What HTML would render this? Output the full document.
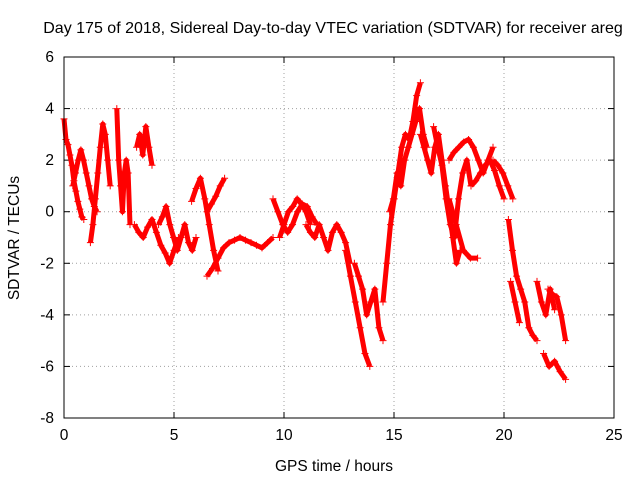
<!DOCTYPE html>
<html><head><meta charset="utf-8"><style>
body{margin:0;background:#fff}
svg text{font-family:"Liberation Sans",sans-serif;font-size:15.5px;fill:#000}
</style></head><body>
<svg id="c" width="640" height="480">
<text x="333" y="33" text-anchor="middle" style="font-size:16px">Day 175 of 2018, Sidereal Day-to-day VTEC variation (SDTVAR) for receiver areg</text>
<text x="334" y="471" text-anchor="middle">GPS time / hours</text>
<text transform="translate(19,238) rotate(-90)" text-anchor="middle">SDTVAR / TECUs</text>
<g id="grid"></g><g id="marks"></g>
<rect x="64" y="57" width="550" height="361" fill="none" stroke="#000"/>
</svg>
<script>
const xTicks=[0,5,10,15,20,25];
const yTicks=[-8,-6,-4,-2,0,2,4,6];
const trackStart=[0,0.4,1.2,2.4,3.3,3.2,4.3,5.8,6.5,6.5,9.5,9.8,11.0,12.8,13.2,14.5,14.8,16.2,16.8,17.5,17.5,18.5,19.5,20.2,20.3,21.5,21.8,22.0];
const trackEnd=[0.9,1.5,2.1,3.0,4.0,5.2,6.0,7.0,7.3,9.5,11.5,11.2,13.0,13.9,14.5,16.2,16.5,18.0,18.5,19.5,18.8,20.0,20.4,21.5,20.7,22.3,22.8,22.8];
const trackValues=[
[3.6,2.8,2.6,2.2,1.8,1.2,0.8,0.4,0.1,-0.2,-0.3],
[1.0,1.5,2.0,2.4,2.0,1.5,1.0,0.5,0.2,0],
[-1.2,-0.5,0.5,1.5,2.5,3.4,3.0,2.0,1.0],
[4.0,2.0,1.0,0,1.5,2.0,1.5,-0.5],
[2.5,3.0,2.2,3.3,2.5,1.8],
[-0.5,-0.8,-1.0,-0.6,-0.3,-0.8,-1.3,-1.6,-2.0,-1.5,-1.0],
[-0.5,-0.2,0.2,-0.5,-1.0,-1.5,-1.0,-0.5,-1.2,-1.5,-1.0],
[0.4,0.9,1.3,0.5,-0.5,-1.5,-2.3],
[0,0.3,0.6,1.0,1.3],
[-2.5,-2.2,-1.8,-1.4,-1.2,-1.1,-1.0,-1.1,-1.2,-1.3,-1.4,-1.2,-1.0],
[0.5,0,-0.5,-0.8,-0.5,0,0.3,0.2,-0.2,-0.5],
[-1.0,-0.5,0,0.2,0.5,0.3,0,-0.5],
[-0.5,-0.8,-1.0,-0.5,-1.0,-1.5,-0.8,-0.5,-0.8,-1.2,-2.0],
[-1.5,-2.5,-3.5,-4.5,-5.5,-6.0],
[-2.0,-2.5,-3.0,-4.0,-3.5,-3.0,-4.5,-5.0],
[-3.5,-2.0,-0.5,0.5,1.5,2.5,3.0,2.8,3.5,4.5,5.0],
[0,0.5,1.5,1.0,2.0,2.5,3.0,3.5,4.0,3.0,2.5],
[3.0,2.5,2.0,1.5,2.5,3.0,2.0,1.0,0,-1.0,-2.0,-1.5],
[3.3,2.5,1.8,0.5,-0.5,-1.0,0.5,1.5,2.0,1.0],
[2.0,2.3,2.5,2.7,2.8,2.5,2.0,1.5,2.0,2.5],
[0.5,-0.5,-1.5,-1.8,-1.8],
[1.0,1.2,1.5,1.8,2.0,1.6,1.0,0.5],
[2.0,1.8,1.5,1.0,0.5],
[-0.3,-1.5,-2.5,-3.0,-3.5,-4.5,-4.8,-5.0],
[-2.7,-3.5,-4.3],
[-2.7,-3.5,-4.0,-3.0,-3.8],
[-5.5,-6.0,-5.8,-6.2,-6.5],
[-3.0,-3.2,-3.3,-4.0,-5.0]
];
const NS='http://www.w3.org/2000/svg';
const X0=64,X1=614,Y0=418,Y1=57;
function sx(v){return X0+(v-0)/(25-0)*(X1-X0);}
function sy(v){return Y0-(v+8)/14*(Y0-Y1);}
const grid=document.getElementById('grid'),marks=document.getElementById('marks');
function mk(tag,attrs,parent){const e=document.createElementNS(NS,tag);for(const k in attrs)e.setAttribute(k,attrs[k]);parent.appendChild(e);return e;}
xTicks.forEach(t=>{
  const x=sx(t);
  if(t>0&&t<25){const g=mk('line',{x1:x,x2:x,y1:Y1,y2:Y0,stroke:'#a0a0a0','stroke-dasharray':'1,3'},grid);
  
  }
  mk('line',{x1:x,x2:x,y1:Y0,y2:Y0-6,stroke:'#000'},grid);
  mk('line',{x1:x,x2:x,y1:Y1,y2:Y1+6,stroke:'#000'},grid);
  const l=mk('text',{x:x,y:Y0+22,'text-anchor':'middle'},grid);l.textContent=t;
  
  
});
yTicks.forEach(t=>{
  const y=sy(t);
  if(t>-8&&t<6){const g=mk('line',{x1:X0,x2:X1,y1:y,y2:y,stroke:'#a0a0a0','stroke-dasharray':'1,3'},grid);
  
  }
  mk('line',{x1:X0,x2:X0+6,y1:y,y2:y,stroke:'#000'},grid);
  mk('line',{x1:X1,x2:X1-6,y1:y,y2:y,stroke:'#000'},grid);
  const l=mk('text',{x:X0-10,y:y+5,'text-anchor':'end'},grid);l.textContent=t;
  
  
});
trackValues.forEach((vals,i)=>{
  const t0=trackStart[i],t1=trackEnd[i],n=vals.length;
  const pts=vals.map((v,j)=>[sx(t0+(t1-t0)*j/(n-1)),sy(v)]);
  const pl=mk('polyline',{points:pts.map(p=>p.join(',')).join(' '),fill:'none',stroke:'#f00','stroke-width':5,'stroke-linejoin':'round'},marks);
  
  
  pts.forEach(p=>{
    const m=mk('path',{d:`M${p[0]-3.5},${p[1]}h7M${p[0]},${p[1]-3.5}v7`,stroke:'#f00','stroke-width':1},marks);
    
    
  });
});
</script>
</body></html>
